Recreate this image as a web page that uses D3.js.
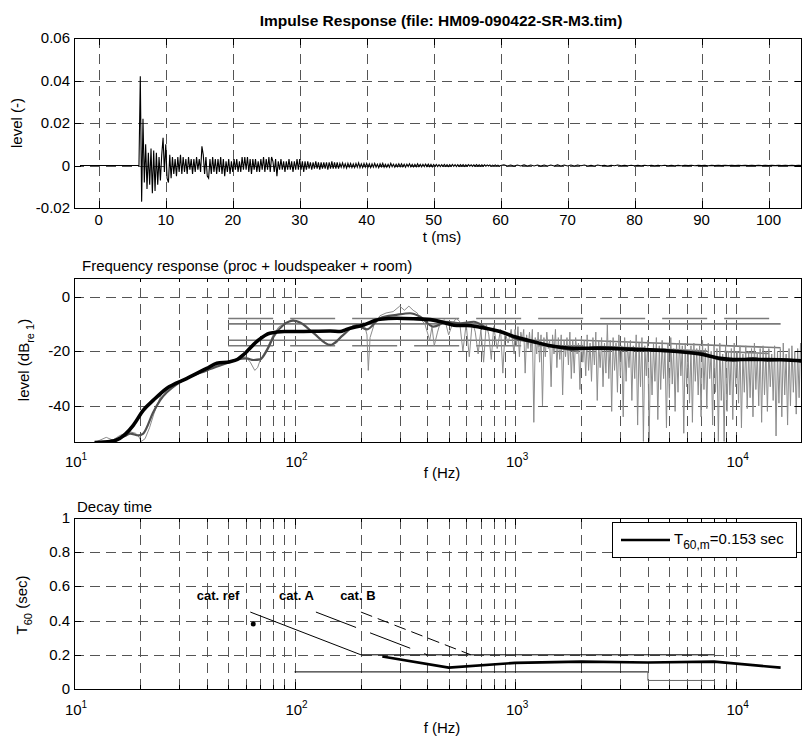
<!DOCTYPE html>
<html>
<head>
<meta charset="utf-8">
<script src="https://cdn.jsdelivr.net/npm/d3@7/dist/d3.min.js"></script>
<style>
html,body{margin:0;padding:0;background:#fff;}
svg{display:block;}
</style>
</head>
<body>
<svg id="chart" width="803" height="738"></svg>
<script>
// ================= DATA =================
// ---- Panel 1: impulse response ----
const irTitle = "Impulse Response (file: HM09-090422-SR-M3.tim)";
const irTimeTicks = [0,10,20,30,40,50,60,70,80,90,100];
const irLevelTicks = [-0.02,0,0.02,0.04,0.06];
const irLevelTickLabels = ["-0.02","0","0.02","0.04","0.06"];
const irPreStartMs = -2.8;               // recording start (silent until onset)
const irStartMs = 6.0, irStepMs = 0.2;   // sampled part read from the picture
// level x 1000
const irLevelMilli = [
 0,42,-17,22,-8,   10,-11,6,-9,8,   -13,7,-12,6,-9,   4,-7,5,13,-3,
 10,-6,-8,5,-6,    4,-4,3,-5,4,     -3,5,-4,4,-3,     3,-4,4,-2,3,
 -4,3,-3,4,-2,     3,-3,9,5,-4,     4,-5,-6,3,-4,     4,-3,3,-4,3,
 -3,4,-4,3,-5,     2,-3,3,-4,2,     -3,3,-2,3,-3,     2,-3,4,-2,4,
 -2,4,-3,3,-4,     3,-2,3,-3,2,     -3,3,-2,4,-3,     3,-2,4,-3,4,
 2,-3,3,-5,2,      -2,3,-2,2,-3,    2,-2,3,-2,2,      -3,2,-2,3,-2,
 3,-2,2,-3,2,      -2,2,-1.5,1.5,-2, 1.5,-1.5,2,-1.5,1.5, -2,1.5,-1.5,1.5,-1.5,
 1.5,-2,1.5,-1.5,2, -1.5,1.5,-1.5,1.5,-1.5, 1,-0.8,1.2,-1,0.8, -1.2,1,-0.8,1,-1,
 0.8,-1,1,-0.8,1.2, -1,0.8,-1,1,-0.8, 1,-0.8,0.8,-1,0.8, -0.8,1,-0.8,0.6,-1,
 0.8,-0.6,1,-0.8,0.6, -0.8,0.6,-0.8,1,-0.6, 0.6,-0.8,0.6,-0.6,0.8, -0.6,0.8,-0.6,0.6,-0.8,
 0.6,-0.5,0.8,-0.6,0.5, -0.6,0.5,-0.6,0.8,-0.5, 0.5,-0.6,0.5,-0.5,0.6, -0.5,0.6,-0.5,0.5,-0.6,
 0.5,-0.4,0.5,-0.5,0.4, -0.5,0.4,-0.4,0.5,-0.4, 0.4,-0.5,0.4,-0.4,0.5, -0.4,0.4,-0.5,0.4,-0.4,
 0.4,-0.3,0.4,-0.4,0.3, -0.3,0.4,-0.3,0.3,-0.4, 0.3,-0.3,0.4,-0.3,0.3, -0.3,0.3,-0.3,0.3,-0.3,
 0.3,-0.2,0.3,-0.3,0.2, -0.2,0.3,-0.2,0.2,-0.3, 0
];
const irTailStartMs = 60.5, irTailStepMs = 0.5;
const irTailMilli = [
 0.3,-0.2,0.2,-0.3,0.2,-0.2,0.3,-0.2,0.2,-0.2,
 0.2,-0.3,0.2,-0.2,0.2,-0.2,0.3,-0.2,0.2,-0.2,
 0.2,-0.2,0.2,-0.1,0.2,-0.2,0.1,-0.2,0.2,-0.1,
 0.1,-0.2,0.1,-0.1,0.2,-0.1,0.1,-0.1,0.1,-0.1,
 0.1,-0.1,0.1,-0.1,0.1,-0.1,0.1,-0.1,0.1,-0.1,
 0.1,-0.1,0.05,-0.1,0.1,-0.05,0.1,-0.1,0.05,-0.05,
 0.05,-0.1,0.05,-0.05,0.1,-0.05,0.05,-0.05,0.05,-0.05,
 0.05,-0.05,0.05,-0.05,0.05,-0.05,0.05,-0.05,0.05,-0.05,
 0.05,-0.05,0.05,-0.05,0.05,-0.05,0.05,-0.05,0.05,0
];

// ---- Panel 2: frequency response ----
const frTitle = "Frequency response (proc + loudspeaker + room)";
const frLevelTicks = [-40,-20,0];
const logMajorTicks = [10,100,1000,10000];
const logMajorExp = ["1","2","3","4"];
const logMinorTicks = [20,30,40,50,60,70,80,90,200,300,400,500,600,700,800,900,
  2000,3000,4000,5000,6000,7000,8000,9000];
// raw (unsmoothed) response, low range
const rawLowFreq = [12.4,14,15,16,17,18,19,19.6,20.2,21,22,23,24,25,27,30,33,37,41,45,
  50,55,60,63,66,68,70,75,80,85,90,98,106,114,122,133,145,155,166,180,
  191,200,205,210,213,216,220,230,244,260,280,300,315,330,345,360,370,390,410,420,
  430,445,460,480,500,520,540,560,580,600,620,640,660,680,700,720,740,760,780,800,
  830,860,880,900,930,960,990];
const rawLowLevel = [-53.4,-51.5,-52.5,-51,-50,-49.5,-50,-51,-53,-52,-48,-43,-39,-35.5,-33,-31.5,-30,-28,-26.5,-25,
  -24,-23,-22,-24,-27,-26,-23,-19,-14,-11,-10,-8.5,-9.5,-11,-13.5,-16,-18,-17,-14,-11,
  -10.5,-11,-9.5,-12,-14,-27,-15,-10,-7,-6,-5.5,-3.5,-5,-3.5,-5,-6,-8,-10,-16,-11,
  -18,-13,-9,-8.5,-14,-10,-8,-9,-20,-10,-22,-9,-13,-21,-12,-24,-10,-14,-23,-11,
  -19,-12,-28,-13,-17,-12,-21];
// raw response, high range: levels on an even log-frequency grid 1 kHz .. 20 kHz
const rawHighStartHz = 1000, rawHighEndHz = 20000;
const rawHighLevel = [
 -12,-18,-11,-22,-13,-16,-12,-28,-14,-19,  -13,-20,-12,-46,-15,-21,-13,-24,-14,-40,
 -15,-22,-13,-19,-16,-33,-14,-21,-12,-26,  -15,-23,-14,-36,-16,-22,-15,-25,-13,-30,
 -16,-28,-15,-21,-17,-34,-15,-24,-16,-29,  -14,-27,-17,-31,-15,-25,-13,-38,-16,-26,
 -15,-33,-17,-28,-10,-30,-16,-42,-15,-27,  -17,-35,-14,-29,-18,-44,-15,-31,-17,-26,
 -16,-38,-18,-30,-14,-47,-17,-33,-15,-53,  -18,-29,-16,-53,-19,-36,-17,-31,-15,-45,
 -18,-34,-16,-30,-19,-48,-17,-37,-15,-32,  -19,-42,-17,-35,-16,-29,-18,-50,-17,-33,
 -20,-39,-18,-46,-17,-31,-19,-36,-18,-44,  -16,-34,-19,-41,-17,-30,-20,-47,-18,-35,
 -19,-53,-17,-38,-21,-53,-18,-42,-20,-36,  -19,-45,-17,-33,-20,-39,-18,-48,-21,-35,
 -18,-41,-20,-37,-19,-44,-17,-34,-21,-40,  -19,-46,-18,-36,-20,-42,-19,-33,-21,-38,
 -18,-51,-20,-39,-19,-44,-17,-36,-21,-47,  -19,-40,-18,-35,-20,-43,-19,-37,-17,-30
];
// 1/3-octave smoothed response
const thirdFreq = [12.4,15,17,18,19.6,20.6,22.9,24.6,30,40,50,55,60.6,65,69.8,75,80.3,89,98.9,106,
  122,145,166,191,213,244,290,334,370,426,490,564,650,748,855,1050,1200,1440,1840,2400,
  3400,4900,6900,8500,9800,12000,14000,17000,20000];
const thirdLevel = [-53.4,-52.6,-51,-50.1,-50.8,-50.1,-42.2,-37.9,-31.5,-27,-24.2,-23,-22.6,-23.2,-23,-19.6,-14.7,-10.4,-8.8,-9.5,
  -13.4,-17.7,-14.1,-10.4,-12,-7.9,-6.7,-6.1,-7.3,-11,-9.2,-9.8,-9.2,-11.6,-12.8,-15.9,-16.5,-17.8,-19.5,-18.5,
  -19,-20,-20.5,-23,-23.5,-22.5,-23.5,-23,-24];
// octave smoothed response
const octFreq = [12.4,15.1,17,18.6,20.6,22.9,26.3,32.4,40,44.4,51,55,58.4,67.3,77.2,90,102,145,161,172,
  205,244,291,346,426,490,544,604,694,855,1018,1211,1442,1838,2427,3436,4866,6897,8505,9778,13800,20000];
const octLevel = [-53.4,-52.8,-50.5,-47,-41.6,-37.9,-33.6,-30,-26.3,-24.4,-23.8,-23,-21.4,-16.5,-13.4,-12.8,-12.8,-12.6,-12.8,-12,
  -10.4,-8.3,-7.9,-8.1,-8.6,-9.8,-10.6,-10.6,-11.2,-12.8,-14.9,-16.5,-18,-18.9,-18.9,-19.3,-19.8,-21,-22.6,-23,-23,-23.5];
// tolerance lines
const tolUpperOuterFreq = [50,16000], tolUpperOuterLevel = [-8,-8];
const tolUpperInnerFreq = [50,16000], tolUpperInnerLevel = [-10,-10];
const tolLowerInnerFreq = [50,2000,16000], tolLowerInnerLevel = [-16,-16,-18.7];
const tolLowerOuterFreq = [50,2000,16000], tolLowerOuterLevel = [-18,-18,-21];

// ---- Panel 3: decay time ----
const dtTitle = "Decay time";
const t60Ticks = [0,0.2,0.4,0.6,0.8,1];
const t60TickLabels = ["0","0.2","0.4","0.6","0.8","1"];
const bandFreq = [250,500,1000,2000,4000,8000,16000];
const bandT60 = [0.19,0.125,0.153,0.16,0.155,0.16,0.125];
const catRefFreq = [63,200,8000], catRefT60 = [0.45,0.2,0.2];
const catAFreq = [125,400], catAT60 = [0.45,0.2];
const catBFreq = [200,630], catBT60 = [0.45,0.2];
const lowLimitFreq = [100,4000], lowLimitT60 = [0.1,0.1];
const lowStepFreq = [4000,4000,8000], lowStepT60 = [0.1,0.05,0.05];
const refPointFreq = [65], refPointT60 = [0.38];
const catLabels = ["cat. ref","cat. A","cat. B"];
const catLabelFreq = [36,85,161];
const catLabelT60 = 0.52;
const legendText = {main:"T", sub:"60,m", rest:"=0.153 sec"};

// ================= DRAWING =================
const FONT = '"Liberation Sans", Arial, Helvetica, sans-serif';
const svg = d3.select("#chart").style("font-family", FONT);
svg.append("rect").attr("width",803).attr("height",738).attr("fill","#fff");
const L = 74, R = 802;
const px = v => Math.round(v) + 0.5;
const GRID = "#555", DASH = "10,6";

function makeClip(id, top, bottom) {
  svg.append("clipPath").attr("id", id).append("rect")
    .attr("x", L).attr("y", top).attr("width", R - L).attr("height", bottom - top);
  return `url(#${id})`;
}
function drawGrid(g, x, y, xv, yv, top, bottom) {
  const gg = g.append("g").attr("stroke", GRID).attr("stroke-width", 1)
    .attr("stroke-dasharray", DASH).attr("fill", "none");
  gg.selectAll("line.gx").data(xv).join("line").attr("class","gx")
    .attr("x1", d => px(x(d))).attr("x2", d => px(x(d)))
    .attr("y1", bottom).attr("y2", top);
  gg.selectAll("line.gy").data(yv).join("line").attr("class","gy")
    .attr("y1", d => px(y(d))).attr("y2", d => px(y(d)))
    .attr("x1", L).attr("x2", R);
}
function drawTicks(g, x, y, xMajor, xMinor, yMajor, top, bottom) {
  const tg = g.append("g").attr("stroke", "#000").attr("stroke-width", 1);
  const add = (data, len, cls) => {
    tg.selectAll("line."+cls+"b").data(data).join("line").attr("class",cls+"b")
      .attr("x1", d => px(x(d))).attr("x2", d => px(x(d)))
      .attr("y1", bottom).attr("y2", bottom - len);
    tg.selectAll("line."+cls+"t").data(data).join("line").attr("class",cls+"t")
      .attr("x1", d => px(x(d))).attr("x2", d => px(x(d)))
      .attr("y1", top).attr("y2", top + len);
  };
  add(xMajor, 7, "mj"); add(xMinor, 4, "mn");
  tg.selectAll("line.yl").data(yMajor).join("line").attr("class","yl")
    .attr("y1", d => px(y(d))).attr("y2", d => px(y(d))).attr("x1", L).attr("x2", L + 7);
  tg.selectAll("line.yr").data(yMajor).join("line").attr("class","yr")
    .attr("y1", d => px(y(d))).attr("y2", d => px(y(d))).attr("x1", R).attr("x2", R - 7);
  g.append("rect").attr("x", px(L)).attr("y", px(top)).attr("width", R - L - 1)
    .attr("height", bottom - top).attr("fill", "none").attr("stroke", "#000").attr("stroke-width", 1);
}
function yTickLabels(g, y, vals, labels) {
  g.append("g").selectAll("text").data(vals).join("text")
    .attr("x", 70).attr("y", d => y(d) + 5).attr("text-anchor", "end")
    .attr("font-size", 15).text((d, i) => labels[i]);
}
function logTickLabels(g, x, baseline) {
  const t = g.append("g").selectAll("text").data(logMajorTicks).join("text")
    .attr("x", d => x(d) + 2).attr("y", baseline).attr("text-anchor", "middle").attr("font-size", 15);
  t.append("tspan").text("10");
  t.append("tspan").attr("font-size", 10).attr("dy", -7).text((d, i) => logMajorExp[i]);
}

// ---------- Panel 1 ----------
{
  const top = 38, bottom = 208;
  const x = d3.scaleLinear().domain([-3.7, 105]).range([L, R]);
  const y = d3.scaleLinear().domain([-0.02, 0.06]).range([bottom, top]);
  const g = svg.append("g");
  drawGrid(g, x, y, irTimeTicks, irLevelTicks.slice(1, 4), top, bottom);
  const pts = [{t: irPreStartMs, v: 0}]
    .concat(irLevelMilli.map((v, i) => ({t: irStartMs + i * irStepMs, v: v / 1000})))
    .concat(irTailMilli.map((v, i) => ({t: irTailStartMs + i * irTailStepMs, v: v / 1000})));
  g.append("path").datum(pts).attr("clip-path", makeClip("c1", top, bottom))
    .attr("fill", "none").attr("stroke", "#000").attr("stroke-width", 1.1)
    .attr("d", d3.line().x(d => x(d.t)).y(d => y(d.v)));
  drawTicks(g, x, y, irTimeTicks, [], irLevelTicks, top, bottom);
  yTickLabels(g, y, irLevelTicks, irLevelTickLabels);
  g.append("g").selectAll("text").data(irTimeTicks).join("text")
    .attr("x", d => x(d)).attr("y", 225).attr("text-anchor", "middle").attr("font-size", 15).text(d => d);
  g.append("text").attr("x", (L + R) / 2 + 4).attr("y", 242).attr("text-anchor", "middle")
    .attr("font-size", 15).text("t (ms)");
  g.append("text").attr("transform", "translate(22,123) rotate(-90)").attr("text-anchor", "middle")
    .attr("font-size", 15).text("level (-)");
  g.append("text").attr("x", (L + R) / 2 + 3).attr("y", 26).attr("text-anchor", "middle")
    .attr("font-size", 15.5).attr("font-weight", "bold").text(irTitle);
}

// ---------- Panel 2 ----------
{
  const top = 278, bottom = 442;
  const x = d3.scaleLog().domain([10, 20000]).range([L, R]);
  const y = d3.scaleLinear().domain([-53.2, 6.8]).range([bottom, top]);
  const g = svg.append("g");
  drawGrid(g, x, y, logMajorTicks.concat(logMinorTicks), frLevelTicks, top, bottom);
  const clip = makeClip("c2", top, bottom);
  const dg = g.append("g").attr("clip-path", clip).attr("fill", "none");
  const line = d3.line().x(d => x(d[0])).y(d => y(d[1]));
  const zip = (f, l) => f.map((v, i) => [v, l[i]]);
  // tolerance lines
  dg.append("path").datum(zip(tolUpperOuterFreq, tolUpperOuterLevel)).attr("d", line)
    .attr("stroke", "#7a7a7a").attr("stroke-width", 1.6).attr("stroke-dasharray", "45,17");
  dg.append("path").datum(zip(tolLowerOuterFreq, tolLowerOuterLevel)).attr("d", line)
    .attr("stroke", "#7a7a7a").attr("stroke-width", 1.6).attr("stroke-dasharray", "45,17");
  dg.append("path").datum(zip(tolUpperInnerFreq, tolUpperInnerLevel)).attr("d", line)
    .attr("stroke", "#7a7a7a").attr("stroke-width", 1.6);
  dg.append("path").datum(zip(tolLowerInnerFreq, tolLowerInnerLevel)).attr("d", line)
    .attr("stroke", "#7a7a7a").attr("stroke-width", 1.6);
  // raw response
  const nHigh = rawHighLevel.length;
  const lf0 = Math.log10(rawHighStartHz), lf1 = Math.log10(rawHighEndHz);
  const raw = zip(rawLowFreq, rawLowLevel).concat(
    rawHighLevel.map((v, i) => [Math.pow(10, lf0 + (lf1 - lf0) * i / (nHigh - 1)), v]));
  dg.append("path").datum(raw).attr("d", line).attr("stroke", "#8c8c8c").attr("stroke-width", 1);
  const smooth = d3.line().x(d => x(d[0])).y(d => y(d[1])).curve(d3.curveMonotoneX);
  dg.append("path").datum(zip(thirdFreq, thirdLevel)).attr("d", smooth)
    .attr("stroke", "#505050").attr("stroke-width", 2.2);
  dg.append("path").datum(zip(octFreq, octLevel)).attr("d", smooth)
    .attr("stroke", "#000").attr("stroke-width", 3.6);
  drawTicks(g, x, y, logMajorTicks, logMinorTicks, frLevelTicks, top, bottom);
  yTickLabels(g, y, frLevelTicks, frLevelTicks.map(String));
  logTickLabels(g, x, 467);
  g.append("text").attr("x", (L + R) / 2 + 4).attr("y", 478).attr("text-anchor", "middle")
    .attr("font-size", 15).text("f (Hz)");
  const yl = g.append("text").attr("transform", "translate(29,360) rotate(-90)")
    .attr("text-anchor", "middle").attr("font-size", 15);
  yl.append("tspan").text("level (dB");
  yl.append("tspan").attr("font-size", 11).attr("dy", 5).text("re 1");
  yl.append("tspan").attr("dy", -5).text(")");
  g.append("text").attr("x", 82).attr("y", 271).attr("font-size", 15).text(frTitle);
}

// ---------- Panel 3 ----------
{
  const top = 518, bottom = 689;
  const x = d3.scaleLog().domain([10, 20000]).range([L, R]);
  const y = d3.scaleLinear().domain([0, 1]).range([bottom, top]);
  const g = svg.append("g");
  drawGrid(g, x, y, logMajorTicks.concat(logMinorTicks), t60Ticks.slice(1, 5), top, bottom);
  const clip = makeClip("c3", top, bottom);
  const dg = g.append("g").attr("clip-path", clip).attr("fill", "none");
  const line = d3.line().x(d => x(d[0])).y(d => y(d[1]));
  const zip = (f, l) => f.map((v, i) => [v, l[i]]);
  dg.append("path").datum(zip(catRefFreq, catRefT60)).attr("d", line).attr("stroke", "#000").attr("stroke-width", 1);
  dg.append("path").datum(zip(catAFreq, catAT60)).attr("d", line).attr("stroke", "#000")
    .attr("stroke-width", 1).attr("stroke-dasharray", "43,15");
  dg.append("path").datum(zip(catBFreq, catBT60)).attr("d", line).attr("stroke", "#000")
    .attr("stroke-width", 1).attr("stroke-dasharray", "12,6");
  dg.append("path").datum(zip(lowLimitFreq, lowLimitT60)).attr("d", line).attr("stroke", "#000").attr("stroke-width", 1);
  dg.append("path").datum(zip(lowStepFreq, lowStepT60)).attr("d", line).attr("stroke", "#666").attr("stroke-width", 1);
  dg.selectAll("circle").data(zip(refPointFreq, refPointT60)).join("circle")
    .attr("cx", d => x(d[0])).attr("cy", d => y(d[1])).attr("r", 2.5).attr("fill", "#000");
  dg.append("path").datum(zip(bandFreq, bandT60)).attr("d", line).attr("stroke", "#000").attr("stroke-width", 2.6);
  g.append("g").selectAll("text").data(catLabels).join("text")
    .attr("x", (d, i) => x(catLabelFreq[i])).attr("y", y(catLabelT60))
    .attr("font-size", 13).attr("font-weight", "bold").text(d => d);
  drawTicks(g, x, y, logMajorTicks, logMinorTicks, t60Ticks, top, bottom);
  yTickLabels(g, y, t60Ticks, t60TickLabels);
  logTickLabels(g, x, 715);
  g.append("text").attr("x", (L + R) / 2 + 4).attr("y", 733).attr("text-anchor", "middle")
    .attr("font-size", 15).text("f (Hz)");
  const yl = g.append("text").attr("transform", "translate(27,605) rotate(-90)")
    .attr("text-anchor", "middle").attr("font-size", 15);
  yl.append("tspan").text("T");
  yl.append("tspan").attr("font-size", 11).attr("dy", 5).text("60");
  yl.append("tspan").attr("dy", -5).text(" (sec)");
  g.append("text").attr("x", 77).attr("y", 512).attr("font-size", 15).text(dtTitle);
  // legend
  const lg = g.append("g");
  lg.append("rect").attr("x", 612.5).attr("y", 522.5).attr("width", 184).attr("height", 35)
    .attr("fill", "#fff").attr("stroke", "#000").attr("stroke-width", 1);
  lg.append("line").attr("x1", 621).attr("x2", 670).attr("y1", 540).attr("y2", 540)
    .attr("stroke", "#000").attr("stroke-width", 2.6);
  const lt = lg.append("text").attr("x", 674).attr("y", 544).attr("font-size", 15);
  lt.append("tspan").text(legendText.main);
  lt.append("tspan").attr("font-size", 12).attr("dy", 5).text(legendText.sub);
  lt.append("tspan").attr("dy", -5).text(legendText.rest);
}
</script>
</body>
</html>
